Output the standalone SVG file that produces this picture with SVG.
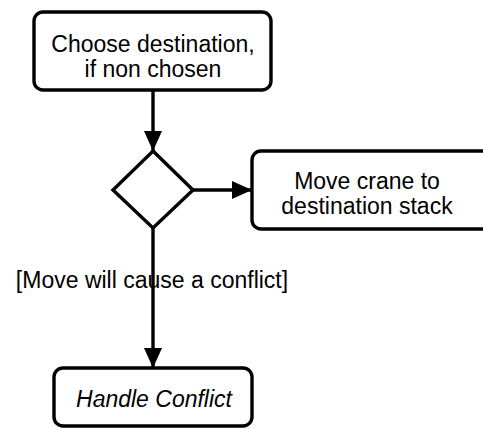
<svg xmlns="http://www.w3.org/2000/svg" width="483" height="429" viewBox="0 0 483 429">
  <style>
    .box { fill: #ffffff; stroke: #000000; stroke-width: 3.4; }
    .edge { fill: none; stroke: #000000; stroke-width: 3.4; }
    text { font-family: "Liberation Sans", Arial, Helvetica, sans-serif; font-size: 23px; fill: #000000; text-anchor: middle; }
    .it { font-style: italic; }
  </style>
  <defs>
    <marker id="arrow" viewBox="0 0 20 20" refX="20" refY="10" markerWidth="20" markerHeight="20" markerUnits="userSpaceOnUse" orient="auto">
      <path d="M0,1 L20,10 L0,19 Z" fill="#000000"/>
    </marker>
  </defs>

  <g id="connectors">
    <line class="edge" x1="153" y1="90" x2="153" y2="151" marker-end="url(#arrow)"/>
    <line class="edge" x1="193" y1="190" x2="252" y2="190" marker-end="url(#arrow)"/>
    <line class="edge" x1="153" y1="228" x2="153" y2="368" marker-end="url(#arrow)"/>
    <text x="152" y="288" text-anchor="middle">[Move will cause a conflict]</text>
  </g>

  <g id="choose-destination">
    <rect class="box" x="34" y="12" width="237" height="78" rx="9" ry="9"/>
    <text x="153" y="52">Choose destination,</text>
    <text x="153" y="77">if non chosen</text>
  </g>

  <g id="decision">
    <polygon class="box" points="153,151 193,190 153,228 113,190"/>
  </g>

  <g id="move-crane">
    <rect class="box" x="252" y="151" width="250" height="78" rx="9" ry="9"/>
    <text x="367" y="189">Move crane to</text>
    <text x="367" y="214">destination stack</text>
  </g>

  <g id="handle-conflict">
    <rect class="box" x="54" y="368" width="198" height="58" rx="9" ry="9"/>
    <text class="it" x="154" y="407">Handle Conflict</text>
  </g>
</svg>
